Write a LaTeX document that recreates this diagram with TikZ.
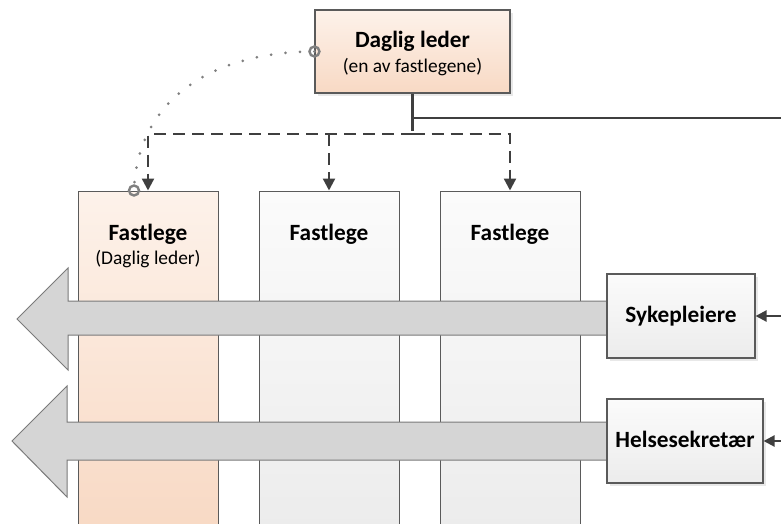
\documentclass[tikz,border=0pt]{standalone}
\usepackage{fontspec}
\setmainfont{Carlito}
\usetikzlibrary{arrows.meta,calc,shadows}
\definecolor{peachT}{HTML}{FDF2EA}
\definecolor{peachB}{HTML}{F8D9C4}
\definecolor{greyT}{HTML}{FBFBFB}
\definecolor{greyB}{HTML}{ECECEC}
\definecolor{edgecol}{HTML}{5A5A5A}
\definecolor{linecol}{HTML}{3F3F3F}
\definecolor{arrowfill}{HTML}{D5D5D5}
\definecolor{arrowedge}{HTML}{7A7A7A}
\definecolor{dotcol}{HTML}{808080}
\newcommand{\bigbold}{\fontsize{23.3}{28}\selectfont\bfseries}
\newcommand{\smallreg}{\fontsize{19.4}{24}\selectfont}
\begin{document}
\begin{tikzpicture}[x=1pt,y=-1pt,
  boxshape/.style={draw=edgecol, line width=1.1pt, rectangle, inner sep=0pt,
    drop shadow={shadow xshift=2.5pt, shadow yshift=-2.5pt, opacity=0.18}},
  peachbox/.style={boxshape, top color=peachT, bottom color=peachB},
  greybox/.style={boxshape, top color=greyT, bottom color=greyB},
  colpeach/.style={draw=edgecol, line width=1pt, rectangle, inner sep=0pt,
    minimum width=140pt, minimum height=339pt, top color=peachT, bottom color=peachB},
  colgrey/.style={draw=edgecol, line width=1pt, rectangle, inner sep=0pt,
    minimum width=140pt, minimum height=339pt, top color=greyT, bottom color=greyB},
  bigarrow/.style={draw=arrowedge, fill=arrowfill, line width=1pt, line join=miter},
  conn/.style={draw=linecol, line width=2.3pt},
  dashconn/.style={draw=linecol, line width=2.3pt, dash pattern=on 12pt off 7pt},
  tip/.style={-{Triangle[length=12pt,width=12pt]}},
  dotline/.style={draw=dotcol, line width=3pt, line cap=round, dash pattern=on 0pt off 14.5pt},
  ring/.style={draw=dotcol, line width=2.4pt},
  lbl/.style={anchor=base, inner sep=0pt, text=black}
]
\useasboundingbox (0,0) rectangle (781,523);

% columns
\node[colpeach] (c1) at (148,360.5) {};
\node[colgrey]  (c2) at (329,360.5) {};
\node[colgrey]  (c3) at (510,360.5) {};
\node[lbl, font=\bigbold] (c1t) at (148,240) {Fastlege};
\node[lbl, font=\smallreg] (c1s) at (148,264.5) {(Daglig leder)};
\node[lbl, font=\bigbold] (c2t) at (329,240) {Fastlege};
\node[lbl, font=\bigbold] (c3t) at (510,240) {Fastlege};

% top box
\node[peachbox, minimum width=195pt, minimum height=83pt] (dl) at (412.5,51.5) {};
\node[lbl, font=\bigbold] (dlt) at (412.5,47) {Daglig leder};
\node[lbl, font=\smallreg] (dls) at (412.5,72.5) {(en av fastlegene)};

% right boxes positions (needed for arrows)
\coordinate (sykw) at (607,316);
\coordinate (helw) at (607,441);

% big arrows
\draw[bigarrow] ($(sykw)+(0,-15)$) -- (68,301) -- (68,268) -- (17,319) -- (68,370) -- (68,335) -- ($(sykw)+(0,19)$);
\draw[bigarrow] ($(helw)+(0,-19)$) -- (67,422) -- (67,386) -- (12,441) -- (67,497) -- (67,460) -- ($(helw)+(0,19)$);

% right boxes
\node[greybox, minimum width=148pt, minimum height=84pt] (syk) at (681,316) {};
\node[lbl, font=\bigbold] (sykt) at (681,322) {Sykepleiere};
\node[greybox, minimum width=156pt, minimum height=84pt] (hel) at (685,441) {};
\node[lbl, font=\bigbold] (helt) at (685,447) {Helsesekretær};

% connectors
\coordinate (jv) at (412.5,131);
\coordinate (jr) at (781,118);
\coordinate (jd) at (412.5,134);
\draw[conn] (dl.south) -- (jv);
\draw[conn] (dl.south |- jr) -- (jr);
\draw[dashconn, tip] (jd) -| (c1.north);
\draw[dashconn, tip] (jd) -| (c3.north);
\draw[dashconn, tip] (c2.north |- jd) -- (c2.north);

\coordinate (sr) at (781,316);
\coordinate (hr) at (781,441);
\draw[conn, -{Triangle[length=11pt,width=11pt]}] (sr) -- (syk.east);
\draw[conn, -{Triangle[length=11pt,width=11pt]}] (hr) -- (hel.east);

% dotted relation
\coordinate (c1dot) at ($(c1.north)+(-14,0)$);
\draw[dotline] (dl.west) .. controls (205,52) and (137,105) .. (c1dot);
\draw[ring] (dl.west) circle (5pt);
\draw[ring] (c1dot) circle (5pt);
\end{tikzpicture}
\end{document}
